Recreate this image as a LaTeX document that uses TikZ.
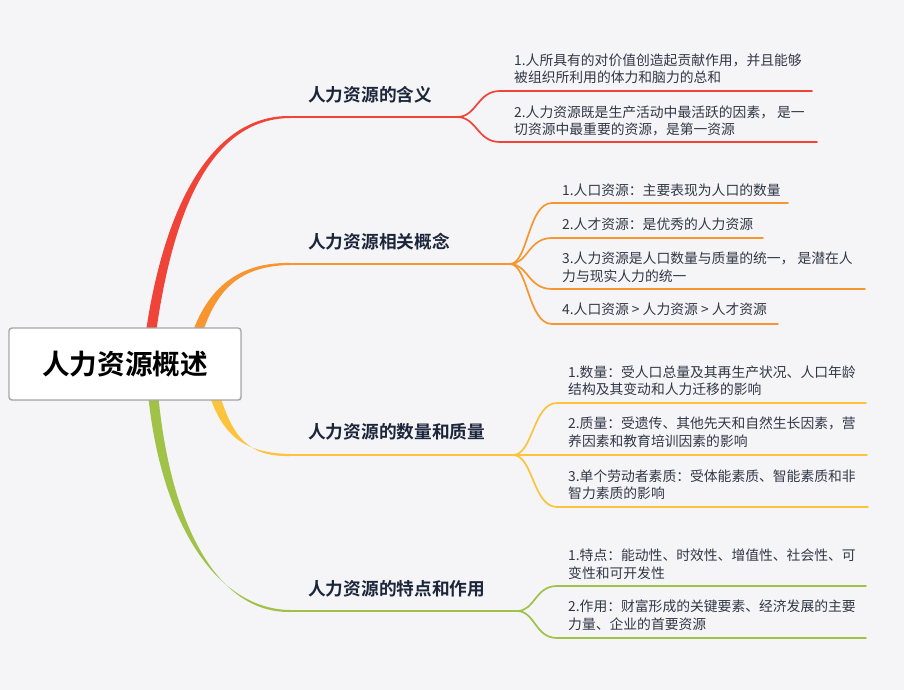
\documentclass[tikz,border=0pt]{standalone}
\usepackage{fontspec}
\setmainfont{Noto Sans CJK SC}[BoldFont={Noto Sans CJK SC Bold}]
\usetikzlibrary{shadows}
\definecolor{bgc}{RGB}{245,245,248}
\definecolor{cred}{RGB}{240,68,56}
\definecolor{corange}{RGB}{247,150,48}
\definecolor{cyellow}{RGB}{251,196,60}
\definecolor{cgreen}{RGB}{160,194,72}
\definecolor{leaftext}{RGB}{50,55,70}
\definecolor{lbltext}{RGB}{28,38,58}
\definecolor{rootborder}{RGB}{168,168,170}
\tikzset{
  leaf/.style={anchor=west, inner sep=0pt, font=\fontsize{13.8}{16}\selectfont, text=leaftext, text height=12.1pt, text depth=1.7pt},
  branchlbl/.style={anchor=west, inner sep=0pt, font=\fontsize{17.7}{20}\selectfont\bfseries, text=lbltext, text height=15.5pt, text depth=2.2pt},
  rootbox/.style={draw=rootborder, line width=1.4pt, fill=white, rounded corners=3pt, minimum width=232pt, minimum height=72pt, inner sep=0pt, font=\fontsize{27.6}{30}\selectfont\bfseries, text=black, text height=24.2pt, text depth=3.4pt, drop shadow={opacity=0.12, shadow xshift=1pt, shadow yshift=-1.2pt}},
  mainline/.style={line width=2pt},
  subline/.style={line width=1.7pt, line cap=round}
}
\begin{document}
\begin{tikzpicture}[x=1pt,y=-1pt]
\fill[bgc] (0,0) rectangle (904,690);
\useasboundingbox (0,0) rectangle (904,690);

% split points
\coordinate (rs) at (457,117);
\coordinate (os) at (510,264);
\coordinate (ys) at (513,455);
\coordinate (gs) at (517,611);
\coordinate (rh) at (288,117);
\coordinate (oh) at (288,264);
\coordinate (yh) at (288,455);
\coordinate (gh) at (288,611);

% tapered main branches
\fill[cred] (146,331.2) .. controls (165.5,199.2) and (215,115) .. (290,116) -- (290,118) .. controls (215,119) and (174.5,200.8) .. (156,332.8) -- cycle;
\fill[corange] (192.3,333) .. controls (207.8,289) and (238,262) .. (290,263) -- (290,265) .. controls (238,266) and (216.2,291) .. (201.7,335) -- cycle;
\fill[cyellow] (209.2,394.3) .. controls (223.7,439.3) and (248,453) .. (290,454) -- (290,456) .. controls (248,457) and (232.3,436.7) .. (218.8,391.7) -- cycle;
\fill[cgreen] (148,393.5) .. controls (160.5,520.5) and (215,609) .. (290,610) -- (290,612) .. controls (215,613) and (169.5,519.5) .. (158,392.5) -- cycle;

% horizontal branch lines
\draw[mainline, cred] (rh) -- (rs);
\draw[mainline, corange] (oh) -- (os);
\draw[mainline, cyellow] (yh) -- (ys);
\draw[mainline, cgreen] (gh) -- (gs);

% root
\node[rootbox] (root) at (125,364) {人力资源概述};

% branch labels
\node[branchlbl] (b1) at (308,95) {人力资源的含义};
\node[branchlbl] (b2) at (308,242) {人力资源相关概念};
\node[branchlbl] (b3) at (308,432) {人力资源的数量和质量};
\node[branchlbl] (b4) at (308,589) {人力资源的特点和作用};

% red sub-branches
\coordinate (r1e) at (812,91);
\coordinate (r2e) at (817,142);
\draw[subline, cred] (rs) .. controls +(20,0) and +(-23,0) .. (500,91) -- (r1e);
\draw[subline, cred] (rs) .. controls +(20,0) and +(-23,0) .. (500,142) -- (r2e);
\node[leaf] (r1a) at (514,60) {1.人所具有的对价值创造起贡献作用，并且能够};
\node[leaf] (r1b) at (514,77) {被组织所利用的体力和脑力的总和};
\node[leaf] (r2a) at (514,112) {2.人力资源既是生产活动中最活跃的因素， 是一};
\node[leaf] (r2b) at (514,129) {切资源中最重要的资源，是第一资源};

% orange sub-branches
\coordinate (o1e) at (788,203);
\coordinate (o2e) at (763,238);
\coordinate (o3e) at (865,289);
\coordinate (o4e) at (778,324);
\draw[subline, corange] (os) .. controls +(18,0) and +(-24,0) .. (552,203) -- (o1e);
\draw[subline, corange] (os) .. controls +(18,0) and +(-24,0) .. (552,238) -- (o2e);
\draw[subline, corange] (os) .. controls +(18,0) and +(-24,0) .. (552,289) -- (o3e);
\draw[subline, corange] (os) .. controls +(18,0) and +(-24,0) .. (552,324) -- (o4e);
\node[leaf] (o1) at (562,190) {1.人口资源：主要表现为人口的数量};
\node[leaf] (o2) at (562,224) {2.人才资源：是优秀的人力资源};
\node[leaf] (o3a) at (562,258) {3.人力资源是人口数量与质量的统一， 是潜在人};
\node[leaf] (o3b) at (562,276) {力与现实人力的统一};
\node[leaf] (o4) at (562,309) {4.人口资源 > 人力资源 > 人才资源};

% yellow sub-branches
\coordinate (y1e) at (866,403);
\coordinate (y2e) at (867,455);
\coordinate (y3e) at (868,507);
\draw[subline, cyellow] (ys) .. controls +(20,0) and +(-24,0) .. (557,403) -- (y1e);
\draw[subline, cyellow] (ys) -- (y2e);
\draw[subline, cyellow] (ys) .. controls +(20,0) and +(-24,0) .. (557,507) -- (y3e);
\node[leaf] (y1a) at (568,372) {1.数量：受人口总量及其再生产状况、人口年龄};
\node[leaf] (y1b) at (568,389) {结构及其变动和人力迁移的影响};
\node[leaf] (y2a) at (568,423) {2.质量：受遗传、其他先天和自然生长因素，营};
\node[leaf] (y2b) at (568,441) {养因素和教育培训因素的影响};
\node[leaf] (y3a) at (568,476) {3.单个劳动者素质：受体能素质、智能素质和非};
\node[leaf] (y3b) at (568,493) {智力素质的影响};

% green sub-branches
\coordinate (g1e) at (866,586);
\coordinate (g2e) at (866,638);
\draw[subline, cgreen] (gs) .. controls +(18,0) and +(-22,0) .. (557,586) -- (g1e);
\draw[subline, cgreen] (gs) .. controls +(18,0) and +(-22,0) .. (557,638) -- (g2e);
\node[leaf] (g1a) at (568,555) {1.特点：能动性、时效性、增值性、社会性、可};
\node[leaf] (g1b) at (568,573) {变性和可开发性};
\node[leaf] (g2a) at (568,606) {2.作用：财富形成的关键要素、经济发展的主要};
\node[leaf] (g2b) at (568,624) {力量、企业的首要资源};
\end{tikzpicture}
\end{document}
